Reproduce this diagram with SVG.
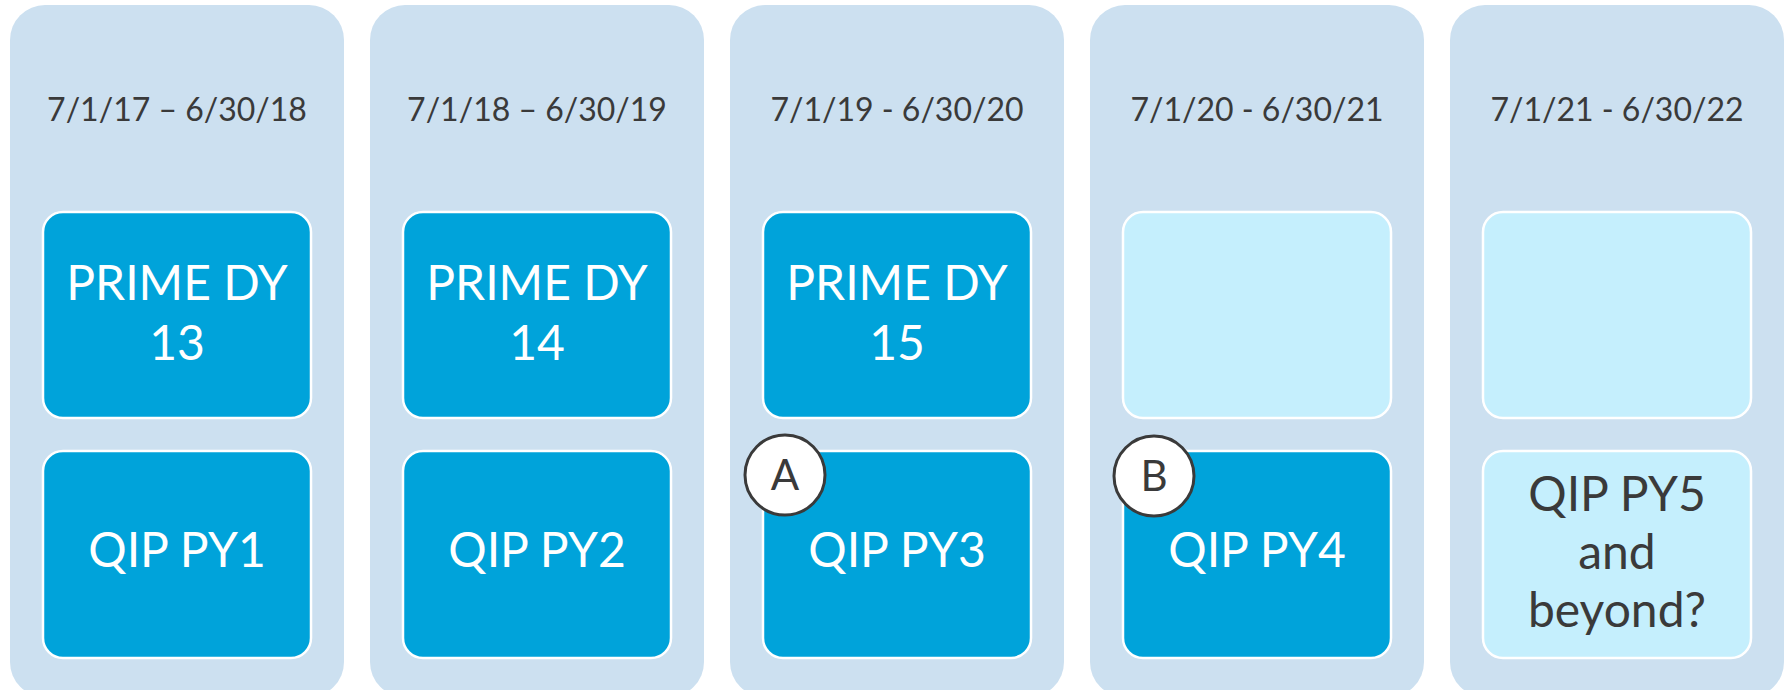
<svg xmlns="http://www.w3.org/2000/svg" width="1789" height="690" viewBox="0 0 1789 690">
<style>
.col{fill:#CCE0F0;}
.dark{fill:#00A3DA;stroke:#FFFFFF;stroke-width:2.5;}
.light{fill:#C5EFFD;stroke:#FFFFFF;stroke-width:2.5;}
.date{font-family:Lato,"Liberation Sans",sans-serif;font-size:32px;fill:#3A3A3A;text-anchor:middle;}
.wt{font-family:Lato,"Liberation Sans",sans-serif;font-size:48px;fill:#FFFFFF;text-anchor:middle;}
.dt{font-family:Lato,"Liberation Sans",sans-serif;font-size:48px;fill:#3A3A3A;text-anchor:middle;}
.badge{fill:#FFFFFF;stroke:#3A3A3A;stroke-width:3;}
.bt{font-family:Lato,"Liberation Sans",sans-serif;font-size:42px;fill:#3A3A3A;text-anchor:middle;}
</style>
<rect width="1789" height="690" fill="#FFFFFF"/>
<g id="col1">
<rect class="col" x="10" y="5" width="334" height="692" rx="35"/>
<text class="date" x="177" y="121">7/1/17 – 6/30/18</text>
</g>
<g id="col2">
<rect class="col" x="370" y="5" width="334" height="692" rx="35"/>
<text class="date" x="537" y="121">7/1/18 – 6/30/19</text>
</g>
<g id="col3">
<rect class="col" x="730" y="5" width="334" height="692" rx="35"/>
<text class="date" x="897" y="121">7/1/19 - 6/30/20</text>
</g>
<g id="col4">
<rect class="col" x="1090" y="5" width="334" height="692" rx="35"/>
<text class="date" x="1257" y="121">7/1/20 - 6/30/21</text>
</g>
<g id="col5">
<rect class="col" x="1450" y="5" width="334" height="692" rx="35"/>
<text class="date" x="1617" y="121">7/1/21 - 6/30/22</text>
</g>
<g id="prime13">
<rect class="dark" x="43" y="212" width="268" height="206" rx="20"/>
<text class="wt" x="177" y="300">PRIME DY</text>
<text class="wt" x="177" y="360">13</text>
</g>
<g id="prime14">
<rect class="dark" x="403" y="212" width="268" height="206" rx="20"/>
<text class="wt" x="537" y="300">PRIME DY</text>
<text class="wt" x="537" y="360">14</text>
</g>
<g id="prime15">
<rect class="dark" x="763" y="212" width="268" height="206" rx="20"/>
<text class="wt" x="897" y="300">PRIME DY</text>
<text class="wt" x="897" y="360">15</text>
</g>
<g id="empty4">
<rect class="light" x="1123" y="212" width="268" height="206" rx="20"/>
</g>
<g id="empty5">
<rect class="light" x="1483" y="212" width="268" height="206" rx="20"/>
</g>
<g id="qip1">
<rect class="dark" x="43" y="451" width="268" height="207" rx="20"/>
<text class="wt" x="177" y="567">QIP PY1</text>
</g>
<g id="qip2">
<rect class="dark" x="403" y="451" width="268" height="207" rx="20"/>
<text class="wt" x="537" y="567">QIP PY2</text>
</g>
<g id="qip3">
<rect class="dark" x="763" y="451" width="268" height="207" rx="20"/>
<text class="wt" x="897" y="567">QIP PY3</text>
</g>
<g id="qip4">
<rect class="dark" x="1123" y="451" width="268" height="207" rx="20"/>
<text class="wt" x="1257" y="567">QIP PY4</text>
</g>
<g id="qip5">
<rect class="light" x="1483" y="451" width="268" height="207" rx="20"/>
<text class="dt" x="1617" y="511">QIP PY5</text>
<text class="dt" x="1617" y="569">and</text>
<text class="dt" x="1617" y="627">beyond?</text>
</g>
<g id="badgeA">
<circle class="badge" cx="785" cy="475" r="40"/>
<text class="bt" x="785" y="490">A</text>
</g>
<g id="badgeB">
<circle class="badge" cx="1154" cy="476" r="40"/>
<text class="bt" x="1154" y="491">B</text>
</g>
<g id="connectors"/>
</svg>
